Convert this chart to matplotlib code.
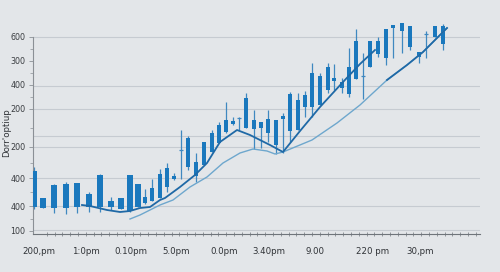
import matplotlib
matplotlib.use("Agg")
import matplotlib.pyplot as plt
from matplotlib.ticker import FixedLocator, MultipleLocator
import numpy as np

# ---- data (time index, price in chart units) ----
t = [34, 43, 54, 66, 77, 89, 100, 111, 121, 130, 138, 145, 152, 160, 167, 174, 181,
     188, 196, 204, 212, 219, 226, 233, 239, 246, 254, 261, 268, 276, 283, 290, 298,
     305, 312, 320, 328, 334, 342, 349, 356, 363, 370, 378, 386, 393, 402, 410, 419,
     426, 435, 443]
body_top = [171, 198, 185, 184, 183, 194, 175, 201, 198, 175, 184, 197, 188, 174, 168, 176, 150,
            138, 162, 142, 133, 125, 120, 121, 118, 98, 120, 122, 119, 120, 116, 94, 100,
            95, 73, 76, 67, 78, 82, 67, 41, 76, 41, 41, 29, 25, 23, 26, 52,
            34, 26, 26]
body_bot = [207, 208, 208, 208, 207, 207, 207, 207, 209, 211, 207, 203, 201, 198, 187, 179, 150,
            167, 176, 165, 152, 143, 132, 124, 118, 128, 129, 128, 133, 145, 119, 131, 130,
            107, 107, 105, 90, 81, 88, 94, 79, 76, 67, 54, 58, 28, 31, 47, 57,
            34, 37, 44]
wick_top = [167, 198, 184, 182, 183, 192, 174, 197, 198, 175, 184, 189, 179, 169, 163, 173, 130,
            136, 153, 142, 130, 122, 102, 117, 117, 93, 110, 122, 110, 120, 113, 92, 93,
            91, 63, 73, 63, 64, 78, 48, 29, 53, 41, 37, 29, 25, 23, 26, 52,
            31, 26, 24]
wick_bot = [209, 208, 213, 214, 213, 212, 212, 210, 209, 212, 207, 204, 201, 198, 192, 180, 179,
            170, 182, 165, 152, 143, 133, 125, 130, 128, 149, 148, 142, 154, 153, 142, 130,
            117, 117, 105, 93, 90, 93, 97, 79, 99, 67, 57, 65, 58, 53, 50, 63,
            58, 37, 50]

ma_fast_t = [82, 90, 107, 120, 130, 140, 150, 160, 165, 180, 195, 207, 220, 237, 250, 270, 283,
             300, 320, 343, 360, 375]
ma_fast = [205, 206, 210, 212, 211, 208, 207, 200, 198, 187, 175, 163, 142, 130, 135, 145, 152,
           131, 107, 82, 64, 50]
ma_slow_t = [130, 140, 160, 173, 190, 207, 223, 240, 253, 267, 275, 283, 312, 337, 360, 387, 407,
             423, 447]
ma_slow = [219, 215, 205, 200, 187, 177, 163, 153, 149, 151, 154, 152, 140, 123, 105, 80, 65,
           52, 28]

ytick_pos = [37, 61, 85, 109, 147, 178, 206, 231]
ytick_labels = ["600", "300", "400", "200", "200", "400", "400", "100"]
grid_pos = [37, 86, 109, 136, 147, 178, 206, 230]
xtick_pos = [39, 86, 131, 176, 224, 269, 315, 373, 420]
xtick_labels = ["200,pm", "1:0pm", "0.10pm", "5.0pm", "0.0pm", "3.40pm", "9.00", "220 pm", "30,pm"]

BASE = 234  # price baseline in chart units
def val(p):
    return BASE - np.asarray(p, dtype=float)

bg = "#e3e6e9"
candle = "#1a78bd"
wick_c = "#3f88c0"
dark = "#1f69a6"
light = "#6ea7cd"

fig = plt.figure(figsize=(5.0, 2.72), dpi=100, facecolor=bg)
ax = fig.add_axes([33/500, 1 - 234/272, (480 - 33)/500, (234 - 18)/272])
ax.set_facecolor(bg)
ax.set_xlim(33, 480)
ax.set_ylim(0, BASE - 18)

for g in val(grid_pos):
    ax.axhline(g, color="#c6cbd1", lw=0.8, zorder=1)

tt = np.array(t, dtype=float)
bt, bb, wt, wb = val(body_top), val(body_bot), val(wick_top), val(wick_bot)
widths = np.where(tt < 140, 5.5, 4.5)
ax.vlines(tt, wb, wt, color=wick_c, lw=0.9, zorder=2)
ax.bar(tt, bt - bb, bottom=bb, width=widths, color=candle, zorder=3, linewidth=0)
# doji markers
dj = (bt - bb) == 0
ax.hlines(bt[dj], tt[dj] - 2.2, tt[dj] + 2.2, color=wick_c, lw=0.9, zorder=3)

ax.plot(ma_slow_t, val(ma_slow), color=light, lw=1.0, zorder=4)
st = np.array(ma_slow_t)
ax.plot(st[st >= 387], val(ma_slow)[st >= 387], color=dark, lw=1.3, zorder=5)
ax.plot(ma_fast_t, val(ma_fast), color=dark, lw=1.3, zorder=5)

for s in ["top", "right"]:
    ax.spines[s].set_visible(False)
ax.spines["left"].set_bounds(0, val(37))
ax.spines["left"].set_color("#8b9096")
ax.spines["bottom"].set_color("#6f757b")
ax.spines["left"].set_linewidth(0.8)
ax.spines["bottom"].set_linewidth(0.8)

ax.yaxis.set_major_locator(FixedLocator(val(ytick_pos)))
ax.set_yticklabels(ytick_labels)
minor_y = [(val(ytick_pos)[i] + val(ytick_pos)[i + 1]) / 2 for i in range(len(ytick_pos) - 1)]
ax.yaxis.set_minor_locator(FixedLocator(minor_y))
ax.tick_params(axis="y", which="major", length=3, width=0.6, color="#8b9096",
               labelsize=5.8, labelcolor="#3a3d41", pad=2.5)
ax.tick_params(axis="y", which="minor", length=2, width=0.5, color="#8b9096")

ax.xaxis.set_major_locator(FixedLocator(xtick_pos))
ax.set_xticklabels(xtick_labels)
ax.xaxis.set_minor_locator(MultipleLocator(7.8))
ax.tick_params(axis="x", which="major", length=0, labelsize=6.2, labelcolor="#2f3236", pad=9)
ax.tick_params(axis="x", which="minor", length=2.5, width=0.5, color="#6f757b", direction="inout")

fig.text(7/500, 1 - 133/272, "Dorr'optiup", rotation=90, fontsize=6.2, color="#2f3236",
         ha="center", va="center")

fig.savefig("out.png", dpi=100, facecolor=bg)
